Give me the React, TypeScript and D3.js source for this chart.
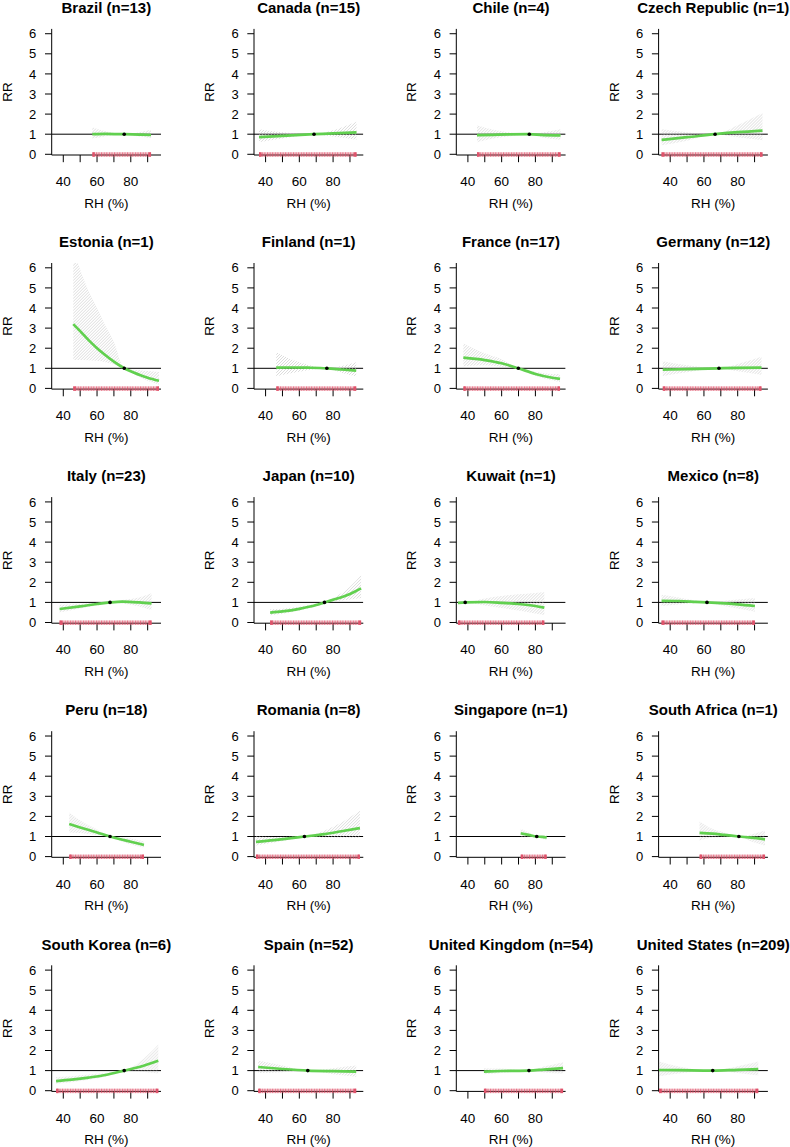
import React from 'react';
import * as d3 from 'd3';

const countries = ['Brazil', 'Canada', 'Chile', 'Czech Republic', 'Estonia', 'Finland', 'France', 'Germany', 'Italy', 'Japan', 'Kuwait', 'Mexico', 'Peru', 'Romania', 'Singapore', 'South Africa', 'South Korea', 'Spain', 'United Kingdom', 'United States'];
const nCities = [13, 15, 4, 1, 1, 1, 17, 12, 23, 10, 1, 8, 18, 8, 1, 1, 6, 52, 54, 209];
const refRH = [76.1, 68.7, 76.4, 66.6, 76.1, 76.3, 69.9, 68.9, 67.7, 74.9, 38.4, 61.8, 67.7, 63, 80.8, 80.7, 76.1, 65, 76.2, 65.2];
const rugRange = [[57.2, 92], [36.1, 93.9], [45.4, 94.9], [34.9, 94.7], [45.9, 96.7], [46.3, 93.7], [37.3, 94.6], [35.6, 94.1], [37.8, 92.3], [42.7, 96.6], [34.1, 85.3], [34.9, 90.2], [43.5, 87.8], [34.3, 95.9], [71.3, 86.7], [57.4, 96.2], [35.7, 96.3], [35.6, 93.7], [49.5, 96.4], [33.4, 92.2]];

const curveRH = [
  [57.2, 65, 76.1, 85, 92],
  [36.1, 50, 68.7, 80, 93.9],
  [45.4, 55, 65, 76.4, 85, 94.9],
  [34.9, 50, 66.6, 80, 94.7],
  [45.9, 50, 55, 60, 65, 70, 76.1, 85, 90, 96.7],
  [46.3, 55, 65, 76.3, 85, 93.7],
  [37.3, 50, 60, 69.9, 80, 90, 94.6],
  [35.6, 50, 68.9, 80, 94.1],
  [37.8, 50, 60, 67.7, 75, 85, 92.3],
  [42.7, 50, 60, 70, 74.9, 80, 90, 96.6],
  [34.1, 38.4, 50, 60, 70, 80, 85.3],
  [34.9, 45, 55, 61.8, 70, 80, 90.2],
  [43.5, 50, 60, 67.7, 75, 80, 87.8],
  [34.3, 45, 55, 63, 75, 85, 95.9],
  [71.3, 76, 80.8, 84, 86.7],
  [57.4, 65, 72, 80.7, 88, 96.2],
  [35.7, 45, 55, 65, 76.1, 85, 96.3],
  [35.6, 50, 65, 80, 93.7],
  [49.5, 60, 76.2, 85, 96.4],
  [33.4, 45, 65.2, 80, 92.2],
];
const curveRR = [
  [1.0, 1.02, 1.0, 0.98, 0.96],
  [0.85, 0.92, 1.0, 1.04, 1.09],
  [0.95, 0.97, 0.99, 1.0, 0.95, 0.94],
  [0.72, 0.85, 1.0, 1.1, 1.18],
  [3.2, 2.85, 2.4, 2.0, 1.65, 1.33, 1.0, 0.68, 0.53, 0.38],
  [1.03, 1.04, 1.03, 1.0, 0.94, 0.88],
  [1.53, 1.41, 1.25, 1.0, 0.72, 0.53, 0.47],
  [0.93, 0.96, 1.0, 1.02, 1.03],
  [0.67, 0.8, 0.92, 1.0, 1.04, 1.0, 0.95],
  [0.49, 0.55, 0.68, 0.87, 1.0, 1.13, 1.42, 1.7],
  [0.98, 1.0, 1.02, 0.98, 0.92, 0.82, 0.74],
  [1.08, 1.07, 1.03, 1.0, 0.96, 0.9, 0.82],
  [1.62, 1.45, 1.2, 1.0, 0.84, 0.74, 0.58],
  [0.73, 0.82, 0.92, 1.0, 1.12, 1.26, 1.42],
  [1.16, 1.08, 1.0, 0.98, 0.95],
  [1.18, 1.14, 1.08, 1.0, 0.94, 0.86],
  [0.48, 0.55, 0.65, 0.78, 1.0, 1.18, 1.49],
  [1.18, 1.08, 1.0, 0.97, 0.95],
  [0.95, 0.98, 1.0, 1.05, 1.12],
  [1.03, 1.02, 1.0, 1.04, 1.07],
];
const ciLow = [
  [0.78, 0.9, 1.0, 0.88, 0.8],
  [0.6, 0.78, 1.0, 0.88, 0.72],
  [0.6, 0.78, 0.9, 1.0, 0.82, 0.72],
  [0.45, 0.68, 1.0, 0.85, 0.7],
  [1.41, 1.41, 1.4, 1.37, 1.3, 1.18, 1.0, 0.55, 0.38, 0.2],
  [0.6, 0.75, 0.9, 1.0, 0.78, 0.6],
  [1.1, 1.15, 1.08, 1.0, 0.62, 0.4, 0.3],
  [0.62, 0.8, 1.0, 0.85, 0.68],
  [0.5, 0.7, 0.86, 1.0, 0.95, 0.8, 0.62],
  [0.36, 0.44, 0.6, 0.82, 1.0, 1.05, 1.15, 1.22],
  [0.9, 1.0, 0.85, 0.72, 0.6, 0.45, 0.37],
  [0.82, 0.9, 0.96, 1.0, 0.86, 0.7, 0.54],
  [1.2, 1.18, 1.08, 1.0, 0.74, 0.6, 0.45],
  [0.55, 0.7, 0.85, 1.0, 0.95, 0.95, 0.92],
  [0.95, 0.98, 1.0, 0.88, 0.84],
  [0.8, 0.95, 0.98, 1.0, 0.75, 0.55],
  [0.35, 0.42, 0.54, 0.7, 1.0, 0.95, 0.85],
  [0.88, 0.92, 1.0, 0.82, 0.7],
  [0.82, 0.88, 1.0, 0.9, 0.85],
  [0.72, 0.85, 1.0, 0.88, 0.75],
];
const ciHigh = [
  [1.35, 1.15, 1.0, 1.1, 1.22],
  [1.25, 1.1, 1.0, 1.2, 1.62],
  [1.45, 1.22, 1.08, 1.0, 1.1, 1.25],
  [1.25, 1.1, 1.0, 1.45, 2.05],
  [7.0, 5.9, 4.85, 4.0, 3.1, 2.3, 1.0, 0.9, 0.86, 0.82],
  [1.8, 1.45, 1.18, 1.0, 1.12, 1.3],
  [2.24, 1.75, 1.45, 1.0, 0.83, 0.72, 0.72],
  [1.35, 1.15, 1.0, 1.22, 1.58],
  [0.88, 0.92, 0.98, 1.0, 1.12, 1.25, 1.45],
  [0.66, 0.69, 0.78, 0.93, 1.0, 1.22, 1.78, 2.35],
  [1.07, 1.0, 1.2, 1.32, 1.4, 1.47, 1.5],
  [1.38, 1.25, 1.1, 1.0, 1.06, 1.14, 1.22],
  [2.2, 1.8, 1.35, 1.0, 0.95, 0.9, 0.75],
  [1.02, 0.98, 1.0, 1.0, 1.3, 1.7, 2.3],
  [1.38, 1.2, 1.0, 1.05, 1.08],
  [1.75, 1.38, 1.2, 1.0, 1.1, 1.3],
  [0.68, 0.72, 0.8, 0.88, 1.0, 1.42, 2.3],
  [1.5, 1.25, 1.0, 1.12, 1.25],
  [1.12, 1.1, 1.0, 1.2, 1.42],
  [1.45, 1.2, 1.0, 1.22, 1.45],
];

const yTicks = [0, 1, 2, 3, 4, 5, 6];
const xTicks = [40, 50, 60, 70, 80, 90];
const xLabels = [40, 60, 80];
const xDomain = [33.13, 97.9];
const yDomain = [-0.035, 6.24];

const COL_W = 202.3;
const ROW_H = 234.1;
const X0 = 51.7;
const Y0 = 28.9;
const PW = 109.3;
const PH = 126.1;
const FONT = '"Liberation Sans", Arial, Helvetica, sans-serif';
const RED = '#DF536B';
const GREEN = '#61D04F';

export default function App() {
  const x = d3.scaleLinear().domain(xDomain).range([0, PW]);
  const y = d3.scaleLinear().domain(yDomain).range([PH, 0]);
  const line = d3.line<[number, number]>().x(d => x(d[0])).y(d => y(d[1])).curve(d3.curveMonotoneX);
  const area = d3.area<[number, number, number]>().x(d => x(d[0])).y0(d => y(d[1])).y1(d => y(d[2])).curve(d3.curveMonotoneX);

  return (
    <svg width={790} height={1147} style={{ position: 'absolute', left: 0, top: 0, background: '#fff' }} fontFamily={FONT}>
      <defs>
        <pattern id="hatch" patternUnits="userSpaceOnUse" width={3} height={3}>
          <path d="M-1,1 l2,-2 M0,3 l3,-3 M2,4 l2,-2" stroke="#c4c4c4" strokeWidth={0.6} />
        </pattern>
        <pattern id="rugp" patternUnits="userSpaceOnUse" width={2.6} height={10}>
          <rect x={0} y={0} width={1.1} height={10} fill={RED} />
        </pattern>
        <clipPath id="plotclip">
          <rect x={0} y={0} width={PW} height={PH} />
        </clipPath>
      </defs>
      <rect x={0} y={0} width={790} height={1147} fill="#fff" />
      {countries.map((name, i) => {
        const c = i % 4;
        const r = Math.floor(i / 4);
        const tx = X0 + c * COL_W;
        const ty = Y0 + r * ROW_H;
        const pts: [number, number][] = curveRH[i].map((h, k) => [h, curveRR[i][k]]);
        const band: [number, number, number][] = curveRH[i].map((h, k) => [h, ciLow[i][k], ciHigh[i][k]]);
        const [rmin, rmax] = rugRange[i];
        const y0 = y(0);
        return (
          <g key={name} transform={`translate(${tx},${ty})`}>
            <text x={PW / 2} y={y(6) - 20.6} textAnchor="middle" fontSize={15} fontWeight="bold" fill="#000">
              {`${name} (n=${nCities[i]})`}
            </text>
            <text transform={`translate(${-40},${PH / 2}) rotate(-90)`} textAnchor="middle" fontSize={13.5} fill="#000">RR</text>
            <text x={PW / 2} y={y0 + 53.4} textAnchor="middle" fontSize={13.5} fill="#000">RH (%)</text>
            <line x1={0} x2={0} y1={0} y2={PH} stroke="#000" strokeWidth={1} />
            <line x1={0} x2={PW} y1={PH} y2={PH} stroke="#000" strokeWidth={1} />
            {yTicks.map(t => (
              <g key={t}>
                <line x1={-6.7} x2={0} y1={y(t)} y2={y(t)} stroke="#000" />
                <text x={-19} y={y(t) + 4.6} textAnchor="middle" fontSize={13} fill="#000">{t}</text>
              </g>
            ))}
            {xTicks.map(t => (
              <line key={t} x1={x(t)} x2={x(t)} y1={PH} y2={PH + 7.2} stroke="#000" />
            ))}
            {xLabels.map(t => (
              <text key={t} x={x(t)} y={y0 + 32} textAnchor="middle" fontSize={13.5} fill="#000">{t}</text>
            ))}
            <g clipPath="url(#plotclip)">
              <line x1={0} x2={PW} y1={y(1)} y2={y(1)} stroke="#000" strokeWidth={1} />
              <path d={area(band) || ''} fill="url(#hatch)" stroke="none" />
              <path d={line(pts) || ''} fill="none" stroke={GREEN} strokeWidth={2.7} />
            </g>
            <circle cx={x(refRH[i])} cy={y(1)} r={1.8} fill="#000" />
            <rect x={x(rmin)} y={y0 - 2} width={x(rmax) - x(rmin)} height={4.4} fill={RED} fillOpacity={0.35} />
            <rect x={x(rmin)} y={y0 - 2} width={x(rmax) - x(rmin)} height={4.4} fill="url(#rugp)" fillOpacity={0.7} />
            <rect x={x(rmin)} y={y0 - 2} width={2.5} height={4.4} fill={RED} />
            <rect x={x(rmax) - 2.5} y={y0 - 2} width={2.5} height={4.4} fill={RED} />
          </g>
        );
      })}
    </svg>
  );
}
